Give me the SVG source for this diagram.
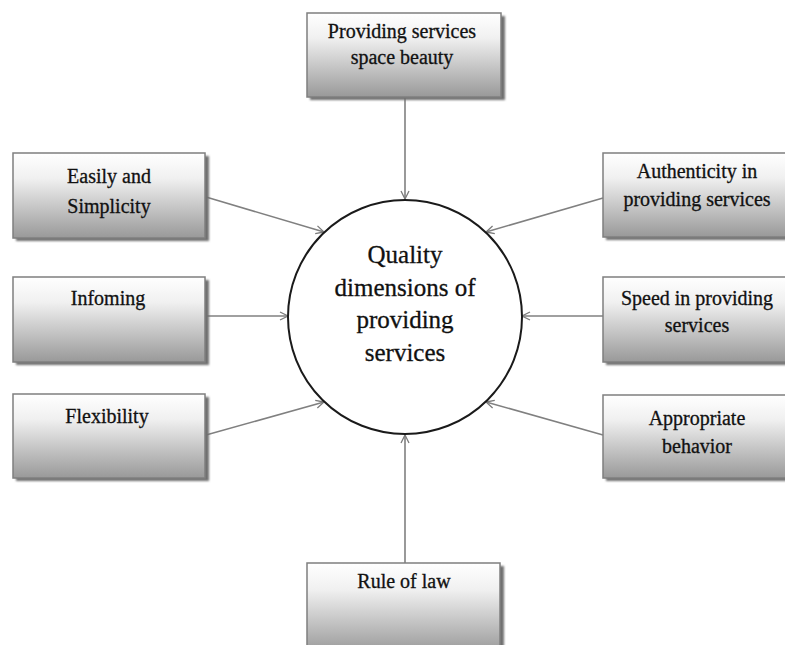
<svg xmlns="http://www.w3.org/2000/svg" width="785" height="645" viewBox="0 0 785 645">
  <defs>
    <linearGradient id="boxFill" x1="0" y1="0" x2="0" y2="1">
      <stop offset="0" stop-color="#ffffff"/>
      <stop offset="0.3" stop-color="#f0f0f0"/>
      <stop offset="1" stop-color="#999999"/>
    </linearGradient>
    <filter id="soft" x="-10%" y="-10%" width="120%" height="130%">
      <feGaussianBlur stdDeviation="1.2"/>
    </filter>
    <marker id="arrow" viewBox="0 0 10 10" refX="9" refY="5" markerWidth="10" markerHeight="10" markerUnits="userSpaceOnUse" orient="auto">
      <path d="M1,1 L9,5 L1,9" fill="none" stroke="#7a7a7a" stroke-width="1.3"/>
    </marker>
  </defs>
  <style>
    .shadow { fill: #6f6f6f; filter: url(#soft); }
    .box { fill: url(#boxFill); stroke: #7f7f7f; stroke-width: 1.5; }
    text { font-family: 'Liberation Serif', 'DejaVu Serif', serif; fill: #111; stroke: #111; stroke-width: 0.3; text-anchor: middle; }
    .label { font-size: 20px; }
    .hub { font-size: 25px; }
    .link { stroke: #808080; stroke-width: 1.6; fill: none; marker-end: url(#arrow); }
  </style>
  <rect width="785" height="645" fill="#ffffff"/>

  <!-- connectors -->
  <g id="connectors">
    <line class="link" x1="405" y1="97" x2="405" y2="199"/>
    <line class="link" x1="206" y1="197" x2="324" y2="232"/>
    <line class="link" x1="206" y1="316" x2="288" y2="316"/>
    <line class="link" x1="206" y1="435" x2="324" y2="402"/>
    <line class="link" x1="603" y1="198" x2="486" y2="232"/>
    <line class="link" x1="603" y1="316" x2="522" y2="316"/>
    <line class="link" x1="603" y1="435" x2="486" y2="402"/>
    <line class="link" x1="405" y1="563" x2="405" y2="435"/>
  </g>

  <!-- central circle -->
  <g id="hub">
    <circle cx="405" cy="317" r="117" fill="#ffffff" stroke="#1a1a1a" stroke-width="2"/>
    <text class="hub" x="405" y="263">Quality</text>
    <text class="hub" x="405" y="296">dimensions of</text>
    <text class="hub" x="405" y="328">providing</text>
    <text class="hub" x="405" y="361">services</text>
  </g>

  <g id="space-beauty">
    <rect class="shadow" x="310" y="16" width="195" height="84"/>
    <rect class="box" x="307" y="13" width="194" height="84"/>
    <text class="label" x="402" y="38">Providing services</text>
    <text class="label" x="402" y="64">space beauty</text>
  </g>

  <g id="easily-simplicity">
    <rect class="shadow" x="16" y="156" width="193" height="85"/>
    <rect class="box" x="13" y="153" width="192" height="85"/>
    <text class="label" x="109" y="183">Easily and</text>
    <text class="label" x="109" y="213">Simplicity</text>
  </g>

  <g id="informing">
    <rect class="shadow" x="16" y="280" width="193" height="85"/>
    <rect class="box" x="13" y="277" width="192" height="85"/>
    <text class="label" x="108" y="305">Infoming</text>
  </g>

  <g id="flexibility">
    <rect class="shadow" x="16" y="397" width="193" height="84"/>
    <rect class="box" x="13" y="394" width="192" height="84"/>
    <text class="label" x="107" y="423">Flexibility</text>
  </g>

  <g id="authenticity">
    <rect class="shadow" x="606" y="156" width="193" height="84"/>
    <rect class="box" x="603" y="153" width="192" height="84"/>
    <text class="label" x="697" y="178">Authenticity in</text>
    <text class="label" x="697" y="206">providing services</text>
  </g>

  <g id="speed">
    <rect class="shadow" x="606" y="280" width="193" height="85"/>
    <rect class="box" x="603" y="277" width="192" height="85"/>
    <text class="label" x="697" y="305">Speed in providing</text>
    <text class="label" x="697" y="332">services</text>
  </g>

  <g id="appropriate-behavior">
    <rect class="shadow" x="606" y="398" width="193" height="83"/>
    <rect class="box" x="603" y="395" width="192" height="83"/>
    <text class="label" x="697" y="425">Appropriate</text>
    <text class="label" x="697" y="453">behavior</text>
  </g>

  <g id="rule-of-law">
    <rect class="shadow" x="310" y="566" width="194" height="90"/>
    <rect class="box" x="307" y="563" width="193" height="90"/>
    <text class="label" x="404" y="588">Rule of law</text>
  </g>
</svg>
